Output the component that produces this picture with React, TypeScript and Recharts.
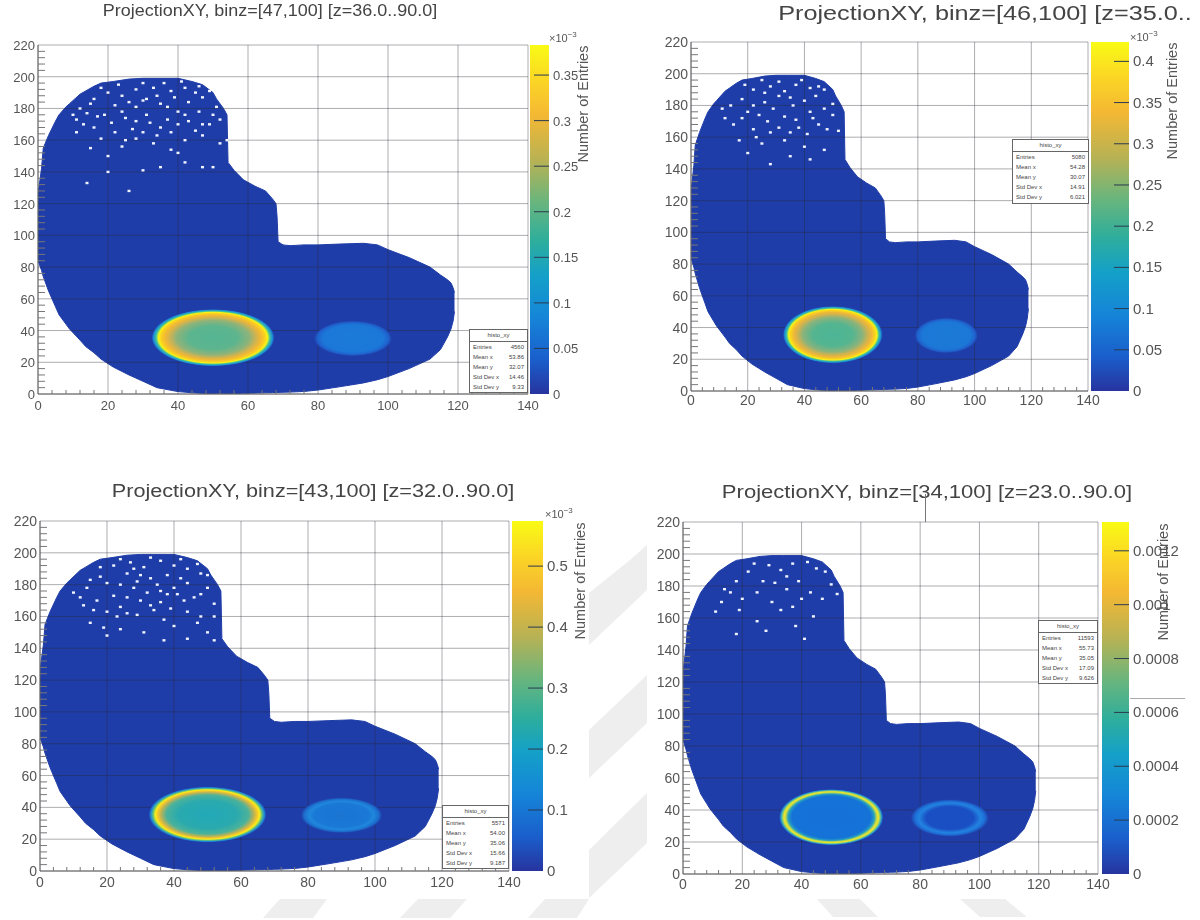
import React from "react";
import { ComposedChart, BarChart, Bar, Area, Scatter, XAxis, YAxis, CartesianGrid } from "recharts";

// --- shared data ---
const axisX = [0,4,8,12,16,20,24,28,32,36,40,44,48,52,56,60,64,68,72,76,80,84,88,92,96,100,104,108,112,116,120,124,128,132,136,140];
const axisY = [0,4,8,12,16,20,24,28,32,36,40,44,48,52,56,60,64,68,72,76,80,84,88,92,96,100,104,108,112,116,120,124,128,132,136,140,144,148,152,156,160,164,168,172,176,180,184,188,192,196,200,204,208,212,216,220];
const gridX = [0,20,40,60,80,100,120,140];
const gridY = [0,20,40,60,80,100,120,140,160,180,200,220];

// footprint of the filled histogram: x, lower edge, upper edge
const edgeX =    [0, 1, 1.5, 3, 5, 6, 8, 9, 12, 13.6, 16, 18, 21.5, 26, 30, 34, 40, 44, 47, 50, 51, 53, 54, 54.3, 56, 58.7, 62, 65, 67, 68, 68.3, 68.6, 70, 72, 76, 80, 86, 93, 97, 100, 106, 112, 115, 117, 118, 118.6, 119];
const edgeLow =  [84, 78, 74, 65, 55, 50, 44, 41, 34, 30, 26, 22, 17, 12, 8, 4, 1.5, 0.8, 0.4, 0.2, 0.2, 0.2, 0.2, 0.2, 0.3, 0.4, 0.6, 0.8, 0.9, 1, 1, 1, 1.1, 1.2, 1.6, 2.5, 4.5, 7, 9, 11, 16, 22, 28, 36, 41, 46, 52];
const edgeHigh = [126, 142, 155, 163, 172, 176, 181, 183, 189, 191, 194, 196, 197, 198.5, 199, 199, 199, 197, 195, 190, 186, 180, 176, 146, 141, 135, 131, 128, 123, 120, 112, 96, 94, 93.5, 94, 94, 94.5, 95, 94, 91, 86, 80, 75, 72, 70, 67, 64];

// mean positions of the two hot spots
const hotSpots = [{ x: 50, y: 35.5 }, { x: 90, y: 35 }];

// --- panel data ---
const titles = [
  "ProjectionXY, binz=[47,100] [z=36.0..90.0]",
  "ProjectionXY, binz=[46,100] [z=35.0..",
  "ProjectionXY, binz=[43,100] [z=32.0..90.0]",
  "ProjectionXY, binz=[34,100] [z=23.0..90.0]",
];
const zMax = [0.383, 0.4235, 0.574, 0.001307];
const zTicks = [
  [0,0.05,0.1,0.15,0.2,0.25,0.3,0.35],
  [0,0.05,0.1,0.15,0.2,0.25,0.3,0.35,0.4],
  [0,0.1,0.2,0.3,0.4,0.5],
  [0,0.0002,0.0004,0.0006,0.0008,0.001,0.0012],
];
const statLabels = ["Entries", "Mean x", "Mean y", "Std Dev x", "Std Dev y"];
const stats = [
  ["4560","53.86","32.07","14.46","9.33"],
  ["5080","54.28","30.07","14.91","6.021"],
  ["5571","54.00","35.06","15.66","9.187"],
  ["11593","55.73","35.05","17.09","9.626"],
];

const holes1 = [[20,190],[24,188],[28,192],[33,193],[38,191],[42,193],[45,190],[35,183],[37,181],[30,185],[26,184],[43,184],[47,187],[51,181],[14,177],[17,175],[19,176],[11,173],[24,178],[25,174],[28,172],[32,171],[37,173],[42,176],[43,172],[49,170],[52,173],[13,170],[22,165],[27,167],[25,160],[28,161],[34,163],[38,165],[45,166],[52,158],[54,160],[15,155],[20,150],[38,154],[40,152],[42,146],[30,141],[35,143],[47,143],[20,140],[50,143],[14,133],[26,128],[31,186],[16,186],[22,182],[40,178],[47,163],[33,158],[18,193],[23,195],[30,196],[36,196],[41,197],[46,194],[49,191],[39,187],[34,188],[28,181],[12,180],[15,183],[10,176],[46,178],[50,176],[21,171],[16,168],[31,176],[35,168],[40,170],[47,170],[30,165],[18,161],[42,160],[11,165],[24,156]];
const holes2 = [[22,190],[28,192],[33,189],[37,193],[42,191],[45,192],[31,186],[35,185],[40,183],[26,182],[18,184],[14,180],[20,176],[24,174],[29,178],[33,173],[37,171],[42,176],[47,178],[50,174],[15,168],[22,165],[28,163],[31,166],[38,166],[45,168],[52,164],[25,156],[33,158],[40,154],[47,152],[35,148],[20,150],[42,146],[28,143],[50,181],[12,172],[17,158],[26,188],[44,186],[19,193],[25,196],[31,195],[39,196],[47,190],[36,180],[22,180],[11,178],[43,172],[27,170],[18,172],[35,163],[41,162],[48,165],[23,160]];
const holes3 = [[22,192],[27,194],[31,191],[36,195],[40,192],[44,190],[47,193],[26,187],[30,186],[33,184],[38,186],[42,184],[48,187],[18,185],[20,181],[24,180],[28,178],[35,180],[40,178],[44,181],[50,178],[14,178],[12,172],[17,170],[22,173],[26,172],[30,170],[33,167],[38,174],[43,170],[46,172],[16,164],[20,163],[24,166],[29,161],[34,164],[39,165],[44,163],[48,160],[52,168],[15,156],[19,153],[24,152],[31,150],[37,158],[40,154],[47,156],[50,150],[37,145],[44,146],[20,148],[52,145],[18,191],[24,196],[33,197],[42,196],[50,186],[29,182],[36,176],[41,174],[48,174],[13,167],[23,160],[32,175],[28,190],[15,183],[10,175],[52,160],[36,169],[26,162]];
const holes4 = [[22,189],[29,193],[33,190],[37,194],[42,195],[45,191],[48,189],[27,183],[18,183],[14,178],[31,182],[35,178],[39,183],[43,176],[47,172],[20,172],[13,170],[25,176],[30,170],[33,165],[37,167],[44,161],[25,158],[19,165],[11,164],[38,155],[41,147],[18,150],[28,152],[50,181],[52,175],[35,186],[24,194],[16,176],[40,172]];
const specks = [holes1, holes2, holes3, holes4];

// --- layout ---
const panels = [
  { x0: 38, x1: 528, y0: 394, y1: 45, barL: 530, barR: 549, axisFont: 13, labelDY: 16, barFont: 13, titleX: 270, titleY: 11, titleFont: 17, titleScale: 1.057, box: [469,329,59,64], nameX: 583, nameY: 104, expX: 549, expY: 30 },
  { x0: 691, x1: 1088, y0: 391, y1: 42, barL: 1091, barR: 1129, axisFont: 14, labelDY: 14, barFont: 15, titleX: 985, titleY: 13, titleFont: 19.5, titleScale: 1.295, box: [1012,139,77,65], nameX: 1172, nameY: 101, expX: 1130, expY: 29 },
  { x0: 40, x1: 509, y0: 871, y1: 521, barL: 512, barR: 543, axisFont: 14, labelDY: 16, barFont: 15, titleX: 313, titleY: 491, titleFont: 17.5, titleScale: 1.236, box: [442,805,67,64], nameX: 580, nameY: 581, expX: 545, expY: 506 },
  { x0: 683, x1: 1098, y0: 874, y1: 522, barL: 1102, barR: 1129, axisFont: 14, labelDY: 15, barFont: 15, titleX: 927, titleY: 492, titleFont: 17.5, titleScale: 1.26, box: [1038,620,60,64], nameX: 1163, nameY: 582, expX: -100, expY: -100 },
];

const bigStops = [
  [[0,"#56b593"],[0.4,"#5cb58e"],[0.6,"#8fb379"],[0.7,"#cdb352"],[0.78,"#f2b834"],[0.85,"#fbd21e"],[0.89,"#f8f315"],[0.93,"#3fc0a0"],[0.97,"#1a8fd8"],[1,"#1f45ae"]],
  [[0,"#4cb596"],[0.4,"#54b590"],[0.6,"#8ab37c"],[0.7,"#c8b354"],[0.78,"#eeb63a"],[0.85,"#fbd21e"],[0.89,"#f8f315"],[0.93,"#3fc0a0"],[0.97,"#1a8fd8"],[1,"#1f45ae"]],
  [[0,"#22a8b8"],[0.5,"#2aaaae"],[0.7,"#4cb29a"],[0.79,"#b8b258"],[0.85,"#f6c82a"],[0.89,"#f8ee18"],[0.93,"#60c080"],[0.97,"#1a86d8"],[1,"#1f45ae"]],
  [[0,"#1570d8"],[0.76,"#1573d8"],[0.83,"#25a0c0"],[0.875,"#b8d850"],[0.91,"#f4e625"],[0.945,"#70c888"],[0.98,"#1a80d8"],[1,"#1f45ae"]],
];
const bigRadius = [[17.5,18],[17.5,18],[17.5,17.5],[17.5,17.5]];
const smallStops = [
  [[0,"#1b7ad8"],[0.78,"#1c78d8"],[0.92,"#1f62cf"],[1,"#1f45ae"]],
  [[0,"#1b7ad6"],[0.78,"#1c78d6"],[0.92,"#1f62cf"],[1,"#1f45ae"]],
  [[0,"#1a74d2"],[0.68,"#1a78d6"],[0.8,"#2088dc"],[0.92,"#1c70d0"],[1,"#1f45ae"]],
  [[0,"#1a4fc4"],[0.62,"#1a4fc4"],[0.8,"#2283e0"],[0.9,"#1e70d8"],[1,"#1f45ae"]],
];
const smallRadius = [[11,11],[11,11],[12,11],[13,11.5]];

const colorStops = [[0,"#f9fb15"],[0.1,"#fbd625"],[0.2,"#f4b833"],[0.33,"#b8b254"],[0.45,"#69b57d"],[0.56,"#2eae9c"],[0.66,"#14a0c8"],[0.78,"#1585d8"],[0.9,"#1a5fcc"],[1,"#27349f"]];

const footprint = edgeX.map((x, i) => ({ x, band: [edgeLow[i], edgeHigh[i]] }));
const specksData = (i: number) => specks[i].map(([x, y]) => ({ x, y }));

const Title = ({ p, text }: any) => (
  <div style={{ position: "absolute", left: p.titleX - 300, width: 600, top: p.titleY - 12, height: 24, lineHeight: "24px", textAlign: "center", fontSize: p.titleFont, color: "#444", whiteSpace: "nowrap", transform: `scaleX(${p.titleScale})` }}>{text}</div>
);

function StatBox({ p, index }: any) {
  const [l, t, w, h] = p.box;
  return (
    <div style={{ position: "absolute", left: l, top: t, width: w - 2, height: h - 2, background: "#fff", border: "1px solid #666", fontSize: 6, color: "#444", lineHeight: "10px", zIndex: 3 }}>
      <div style={{ textAlign: "center", borderBottom: "1px solid #666", height: 11 }}>histo_xy</div>
      {statLabels.map((name, k) => (
        <div key={name} style={{ display: "flex", justifyContent: "space-between", padding: "0 3px" }}>
          <span>{name}</span>
          <span>{stats[index][k]}</span>
        </div>
      ))}
    </div>
  );
}

function Panel({ p, index }: any) {
  const width = p.x1 - p.x0;
  const height = p.y0 - p.y1;
  const sx = width / 140;
  const sy = height / 220;
  const XTick = ({ x, y, payload }: any) => {
    const major = payload.value % 20 === 0;
    return (
      <g>
        {!major && <line x1={x} x2={x} y1={y} y2={y - 4} stroke="#777" />}
        {major && <text x={x} y={y + p.labelDY} textAnchor="middle" fontSize={p.axisFont} fill="#555">{payload.value}</text>}
      </g>
    );
  };
  const YTick = ({ x, y, payload }: any) => {
    const major = payload.value % 20 === 0;
    return (
      <g>
        {!major && <line x1={x} x2={x + 7} y1={y} y2={y} stroke="#777" />}
        {major && <text x={x - 3} y={y + 5} textAnchor="end" fontSize={p.axisFont} fill="#555">{payload.value}</text>}
      </g>
    );
  };
  const ellipse = (id: string, [rx, ry]: number[]) => (props: any) => (
    <ellipse cx={props.cx} cy={props.cy} rx={rx * sx} ry={ry * sy} fill={`url(#${id})`} />
  );
  const Hole = (props: any) => (
    <rect x={props.cx - 1.5} y={props.cy - 1.2} width={3} height={2.4} fill="#eef3ff" />
  );
  return (
    <div style={{ position: "absolute", left: p.x0 - 40, top: p.y1 - 10 }}>
      <ComposedChart width={width + 65} height={height + 40} data={footprint} margin={{ top: 10, right: 25, bottom: 0, left: 0 }}>
        <XAxis dataKey="x" type="number" domain={[0, 140]} ticks={axisX} interval={0} height={30} tick={XTick} tickLine={false} tickSize={0} tickMargin={0} stroke="#777" allowDataOverflow />
        <YAxis dataKey="y" type="number" domain={[0, 220]} ticks={axisY} interval={0} width={40} tick={YTick} tickLine={false} tickSize={0} tickMargin={0} stroke="#777" allowDataOverflow />
        <Area dataKey="band" type="linear" stroke="#1f3da8" strokeWidth={1} fill="#1f3da8" fillOpacity={1} dot={false} activeDot={false} isAnimationActive={false} />
        <Scatter data={specksData(index)} shape={Hole} isAnimationActive={false} />
        <Scatter data={[hotSpots[0]]} shape={ellipse(`big${index}`, bigRadius[index])} isAnimationActive={false} />
        <Scatter data={[hotSpots[1]]} shape={ellipse(`small${index}`, smallRadius[index])} isAnimationActive={false} />
        <CartesianGrid horizontalValues={gridY} verticalValues={gridX} stroke="rgba(40,40,50,0.38)" zIndex={500} />
      </ComposedChart>
    </div>
  );
}

function ColorBar({ p, index }: any) {
  const w = p.barR - p.barL;
  const height = p.y0 - p.y1;
  const ZTick = ({ x, y, payload }: any) => (
    <g>
      {payload.value !== 0 && <line x1={x - 15} x2={x} y1={y} y2={y} stroke="#2a3a50" />}
      <text x={x + 4} y={y + 5} fontSize={p.barFont} fill="#555">{String(payload.value)}</text>
    </g>
  );
  return (
    <div style={{ position: "absolute", left: p.barL, top: p.y1 - 10, zIndex: 2 }}>
      <BarChart width={w + 65} height={height + 20} data={[{ name: "z", top: zMax[index] }]} margin={{ top: 10, right: 0, bottom: 10, left: 0 }} barCategoryGap={0}>
        <XAxis dataKey="name" hide />
        <YAxis orientation="right" type="number" domain={[0, zMax[index]]} ticks={zTicks[index]} interval={0} width={65} axisLine={false} tickLine={false} tickSize={0} tickMargin={0} tick={ZTick} allowDataOverflow />
        <Bar dataKey="top" fill="url(#parula)" isAnimationActive={false} />
      </BarChart>
    </div>
  );
}

const Grad = ({ id, stops }: any) => (
  <radialGradient id={id} cx="50%" cy="50%" r="50%">
    {stops.map(([o, c]: any, i: number) => <stop key={i} offset={o} stopColor={c} />)}
  </radialGradient>
);

export default function App() {
  return (
    <div style={{ position: "absolute", left: 0, top: 0, width: 1200, height: 920, overflow: "hidden", background: "#fff", fontFamily: "'Liberation Sans', Arial, sans-serif" }}>
      <svg width={1200} height={920} style={{ position: "absolute", left: 0, top: 0 }}>
        <defs>
          <linearGradient id="parula" x1="0" y1="0" x2="0" y2="1">
            {colorStops.map(([o, c]: any, i) => <stop key={i} offset={o} stopColor={c} />)}
          </linearGradient>
          {bigStops.map((s, i) => <Grad key={i} id={`big${i}`} stops={s} />)}
          {smallStops.map((s, i) => <Grad key={i} id={`small${i}`} stops={s} />)}
        </defs>
        <g fill="#eeeeee">
          <polygon points="589,593 630,560 647,545 647,590 589,645" />
          <polygon points="589,730 647,675 647,723 589,778" />
          <polygon points="589,850 647,793 647,843 589,898" />
          <polygon points="280,899 327,899 313,918 263,918" />
          <polygon points="418,899 467,899 450,918 400,918" />
          <polygon points="545,899 589,899 577,918 528,918" />
          <polygon points="817,899 860,899 878,917 833,917" />
          <polygon points="960,899 1005,899 1027,917 980,917" />
        </g>
      </svg>
      <div style={{ position: "absolute", inset: 0, filter: "blur(0.55px)" }}>
        {panels.map((p, i) => (
          <React.Fragment key={i}>
            <Title p={p} text={titles[i]} />
            <Panel p={p} index={i} />
            <ColorBar p={p} index={i} />
            <StatBox p={p} index={i} />
            <div style={{ position: "absolute", left: p.nameX, top: p.nameY, fontSize: 14.5, color: "#555", transform: "translate(-50%,-50%) rotate(-90deg)", whiteSpace: "nowrap", zIndex: 4 }}>Number of Entries</div>
            {i < 3 && <div style={{ position: "absolute", left: p.expX, top: p.expY, fontSize: 11, color: "#555", whiteSpace: "nowrap" }}>×10<sup style={{ fontSize: 8 }}>−3</sup></div>}
          </React.Fragment>
        ))}
        <div style={{ position: "absolute", left: 925, top: 494, width: 1, height: 28, background: "#777" }} />
        <div style={{ position: "absolute", left: 1130, top: 698, width: 55, height: 1, background: "#aaa" }} />
      </div>
    </div>
  );
}
